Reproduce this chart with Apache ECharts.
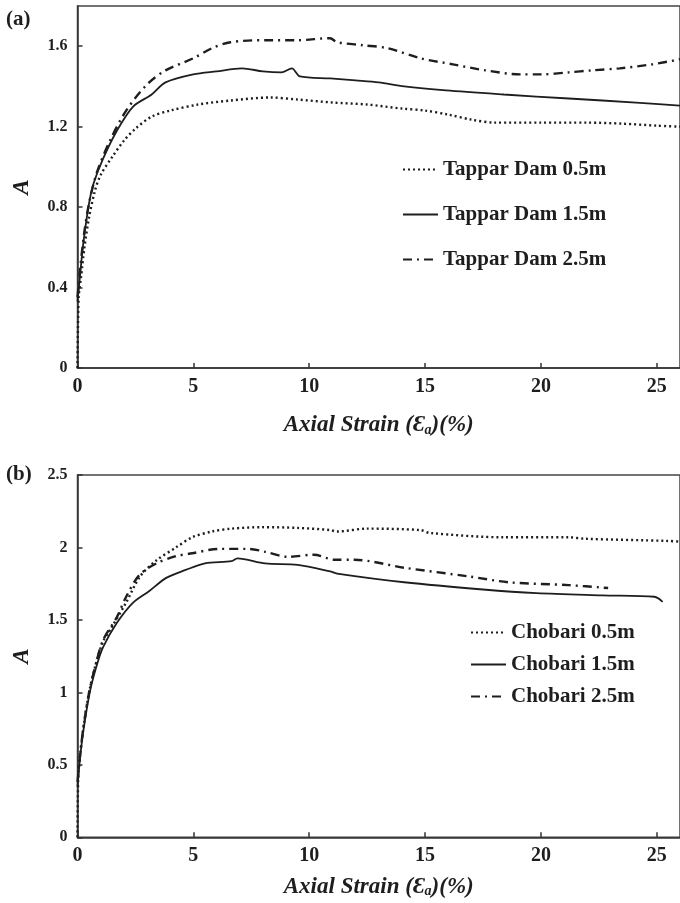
<!DOCTYPE html>
<html>
<head>
<meta charset="utf-8">
<script src="https://cdn.jsdelivr.net/npm/echarts@6/dist/echarts.min.js"></script>
<style>
html,body{margin:0;padding:0;background:#fff;}
#chart{width:680px;height:903px;}
</style>
</head>
<body>
<div id="chart"></div>
<script>
// ---- Panel (a): Tappar Dam ----
const tappar05 = [[0,0],[0.05,0.35],[0.15,0.45],[0.3,0.6],[0.5,0.75],[0.75,0.88],[1.0,0.96],[1.5,1.05],[2.0,1.13],[2.5,1.19],[3.2,1.25],[4.0,1.28],[5.2,1.31],[6.6,1.33],[8.3,1.345],[9.5,1.335],[11.0,1.32],[12.5,1.31],[14.0,1.29],[15.0,1.28],[16.0,1.26],[17.0,1.235],[18.0,1.22],[20.0,1.22],[22.0,1.22],[23.5,1.215],[25.0,1.205],[26.0,1.2]];
const tappar15 = [[0,0.33],[0.1,0.45],[0.25,0.62],[0.5,0.82],[0.7,0.92],[1.1,1.04],[1.7,1.18],[2.4,1.30],[3.2,1.36],[3.8,1.42],[5.0,1.46],[6.0,1.475],[7.1,1.49],[8.0,1.475],[8.8,1.47],[9.25,1.49],[9.6,1.45],[10.9,1.44],[12.0,1.43],[13.0,1.42],[14.1,1.40],[15.9,1.38],[18.4,1.36],[21.2,1.34],[24.1,1.32],[26.0,1.305]];
const tappar25 = [[0,0.35],[0.1,0.48],[0.3,0.68],[0.5,0.82],[0.83,0.97],[1.4,1.13],[2.1,1.28],[3.0,1.41],[3.8,1.48],[5.0,1.54],[5.8,1.59],[6.6,1.62],[8.1,1.63],[9.5,1.63],[10.9,1.64],[11.2,1.62],[12.3,1.605],[13.4,1.59],[14.8,1.54],[16.2,1.51],[17.6,1.48],[19.1,1.46],[20.0,1.46],[21.2,1.47],[22.2,1.48],[23.4,1.49],[24.8,1.51],[26.0,1.535]];

// ---- Panel (b): Chobari ----
const chobari05 = [[0,0],[0.03,0.4],[0.1,0.55],[0.25,0.75],[0.5,1.0],[0.8,1.2],[1.1,1.35],[1.4,1.43],[2.1,1.62],[2.7,1.80],[3.4,1.91],[4.25,2.0],[4.95,2.07],[5.8,2.11],[6.65,2.13],[7.95,2.14],[9.5,2.135],[10.9,2.12],[11.2,2.11],[12.5,2.13],[14.8,2.12],[15.2,2.10],[18.4,2.07],[21.2,2.07],[21.9,2.06],[25.5,2.045],[26.0,2.04]];
const chobari15 = [[0,0.35],[0.1,0.53],[0.24,0.72],[0.53,1.0],[0.8,1.17],[1.1,1.31],[1.7,1.48],[2.4,1.62],[3.1,1.70],[3.83,1.79],[4.67,1.845],[5.5,1.89],[6.65,1.905],[6.9,1.925],[8.1,1.89],[9.5,1.88],[10.9,1.835],[11.2,1.82],[14.1,1.76],[17.5,1.71],[19.8,1.685],[22.65,1.67],[24.9,1.66],[25.25,1.625]];
const chobari25 = [[0,0.38],[0.1,0.55],[0.24,0.74],[0.5,1.0],[0.8,1.2],[1.1,1.36],[1.7,1.52],[2.1,1.66],[2.67,1.81],[3.4,1.89],[4.25,1.94],[4.95,1.96],[6.1,1.99],[7.4,1.99],[8.1,1.97],[9.1,1.935],[10.2,1.95],[11.1,1.915],[11.95,1.915],[14.1,1.86],[16.9,1.80],[18.6,1.76],[21.2,1.74],[22.9,1.72]];

const namesA = ['Tappar Dam 0.5m','Tappar Dam 1.5m','Tappar Dam 2.5m'];
const namesB = ['Chobari 0.5m','Chobari 1.5m','Chobari 2.5m'];
const xTicksMax = 26;

const serif = '"Liberation Serif", "Times New Roman", serif';
const ink = '#1e1e1e';
const dotted = [2, 3];
const dashDot = [9, 5, 2, 5];

function xAxisCfg(gi){
  return {
    gridIndex: gi, type: 'value', min: 0, max: xTicksMax, interval: 5,
    name: 'Axial Strain ({e|Ɛ}{sub|a})(%)',
    nameLocation: 'middle', nameGap: gi === 0 ? 46 : 38,
    nameTextStyle: {
      fontFamily: serif, fontSize: 23, fontWeight: 'bold', fontStyle: 'italic', color: ink,
      rich: {
        e: {fontFamily: serif, fontSize: 23, fontWeight: 'bold', fontStyle: 'italic', color: ink},
        sub: {fontFamily: serif, fontSize: 14, fontWeight: 'bold', fontStyle: 'italic', color: ink, verticalAlign: 'bottom', padding: [9, 0, 0, 0]}
      }
    },
    axisLine: {show: true, lineStyle: {color: '#333', width: 1.5}},
    axisTick: {show: true, inside: true, length: 5, lineStyle: {color: '#333', width: 1.5}},
    axisLabel: {fontFamily: serif, fontSize: 20, fontWeight: 'bold', color: ink, margin: 9, showMaxLabel: false},
    splitLine: {show: false}
  };
}
function yAxisCfg(gi, max, interval, showMax){
  return {
    gridIndex: gi, type: 'value', min: 0, max: max, interval: interval,
    name: 'A', nameLocation: 'middle', nameGap: 44, nameRotate: 90,
    nameTextStyle: {fontFamily: serif, fontSize: 23, fontWeight: 'bold', fontStyle: 'italic', color: ink},
    axisLine: {show: true, lineStyle: {color: '#333', width: 1.5}},
    axisTick: {show: true, inside: true, length: 5, lineStyle: {color: '#333', width: 1.5}},
    axisLabel: {fontFamily: serif, fontSize: 16, fontWeight: 'bold', color: ink, margin: 10, showMaxLabel: showMax},
    splitLine: {show: false}
  };
}
function line(name, data, gi, type){
  return {
    name: name, type: 'line', xAxisIndex: gi, yAxisIndex: gi, data: data,
    symbol: 'none', smooth: 0.3, animation: false, color: ink,
    lineStyle: {color: ink, width: type === 'solid' ? 1.8 : 2.4, type: type}
  };
}
const legendCommon = {
  orient: 'vertical', itemWidth: 35, itemHeight: 12, selectedMode: false,
  itemStyle: {color: 'rgba(0,0,0,0)', borderWidth: 0, opacity: 0},
  textStyle: {fontFamily: serif, fontSize: 21, fontWeight: 'bold', color: ink}
};

const chart = echarts.init(document.getElementById('chart'), null, {renderer: 'canvas'});
chart.setOption({
  backgroundColor: '#fff',
  animation: false,
  grid: [
    {left: 77.5, top: 6, width: 607.6, height: 362, show: true, borderColor: '#444', borderWidth: 1.5},
    {left: 77.5, top: 475, width: 607.6, height: 362.3, show: true, borderColor: '#444', borderWidth: 1.5}
  ],
  xAxis: [xAxisCfg(0), xAxisCfg(1)],
  yAxis: [yAxisCfg(0, 1.8, 0.4, false), yAxisCfg(1, 2.5, 0.5, true)],
  legend: [
    Object.assign({data: namesA, left: 397, top: 154, itemGap: 24}, legendCommon),
    Object.assign({data: namesB, left: 465, top: 617, itemGap: 11}, legendCommon)
  ],
  graphic: [
    {type: 'text', left: 6, top: 9, style: {text: '(a)', font: 'bold 21px ' + serif, fill: ink}},
    {type: 'text', left: 6, top: 464, style: {text: '(b)', font: 'bold 21px ' + serif, fill: ink}}
  ],
  series: [
    line(namesA[0], tappar05, 0, dotted),
    line(namesA[1], tappar15, 0, 'solid'),
    line(namesA[2], tappar25, 0, dashDot),
    line(namesB[0], chobari05, 1, dotted),
    line(namesB[1], chobari15, 1, 'solid'),
    line(namesB[2], chobari25, 1, dashDot)
  ]
});
</script>
</body>
</html>
